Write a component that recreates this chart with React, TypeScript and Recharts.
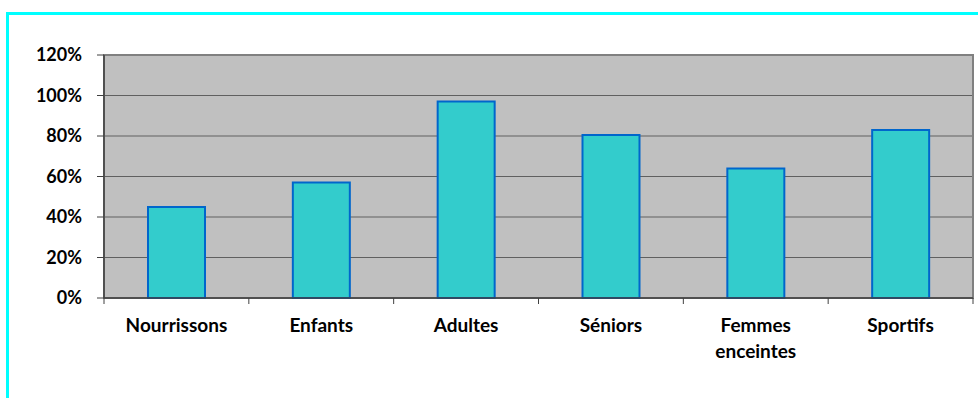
import React from 'react';
import { BarChart, Bar, XAxis, YAxis, CartesianGrid, ReferenceArea, Text } from 'recharts';

const categories = ['Nourrissons', 'Enfants', 'Adultes', 'Séniors', 'Femmes enceintes', 'Sportifs'];
const values = [45, 57, 97, 80.5, 64, 83];
const yTicks = [0, 20, 40, 60, 80, 100, 120];

const data = categories.map((name, i) => ({ name, value: values[i] }));

const W = 978;
const H = 398;
const PLOT_LEFT = 104;
const PLOT_RIGHT = 973;
const PLOT_TOP = 55;
const PLOT_BOTTOM = 298;
const BAND = (PLOT_RIGHT - PLOT_LEFT) / categories.length;
const FONT = 'Lato, sans-serif';
const AXIS = '#404040';

const CategoryTick = (props: any) => {
  const { x, payload, index } = props;
  const left = x - BAND / 2;
  const right = x + BAND / 2;
  return (
    <g>
      <line x1={left} x2={left} y1={PLOT_BOTTOM} y2={PLOT_BOTTOM + 6} stroke={AXIS} />
      {index === categories.length - 1 && (
        <line x1={right} x2={right} y1={PLOT_BOTTOM} y2={PLOT_BOTTOM + 6} stroke={AXIS} />
      )}
      <Text
        x={x}
        y={PLOT_BOTTOM + 21}
        width={100}
        textAnchor="middle"
        verticalAnchor="start"
        lineHeight={26}
        fontFamily={FONT}
        fontWeight={700}
        fontSize={19}
        fill="#000"
      >
        {payload.value}
      </Text>
    </g>
  );
};

export default function App() {
  return (
    <div style={{ position: 'absolute', left: 0, top: 0, width: W, height: H, overflow: 'hidden', background: '#fff' }}>
      <div
        style={{
          position: 'absolute',
          left: 6,
          top: 12,
          width: 1000,
          height: 500,
          border: '3px solid #00FFFF',
        }}
      />
      <div style={{ position: 'absolute', left: 0, top: 0 }}>
        <BarChart
          width={W}
          height={H}
          data={data}
          margin={{ top: PLOT_TOP, right: W - PLOT_RIGHT, bottom: 0, left: 0 }}
          barCategoryGap={0}
        >
          <CartesianGrid vertical={false} fill="#C0C0C0" stroke="#606060" strokeWidth={1} />
          <ReferenceArea y1={0} y2={120} fill="none" stroke="#808080" strokeWidth={2} ifOverflow="visible" />
          <XAxis
            dataKey="name"
            height={H - PLOT_BOTTOM}
            interval={0}
            tickLine={false}
            axisLine={{ stroke: AXIS, strokeWidth: 1.5 }}
            tick={<CategoryTick />}
          />
          <YAxis
            width={PLOT_LEFT}
            domain={[0, 120]}
            ticks={yTicks}
            interval={0}
            tickFormatter={(v: number) => `${v}%`}
            tickSize={7}
            tickMargin={15}
            tickLine={{ stroke: AXIS }}
            axisLine={{ stroke: AXIS, strokeWidth: 1.5 }}
            tick={{ fill: '#000', fontFamily: FONT, fontWeight: 700, fontSize: 18 }}
          />
          <Bar
            dataKey="value"
            fill="#33CCCC"
            stroke="#0066CC"
            strokeWidth={2}
            barSize={57}
            isAnimationActive={false}
          />
        </BarChart>
      </div>
    </div>
  );
}
